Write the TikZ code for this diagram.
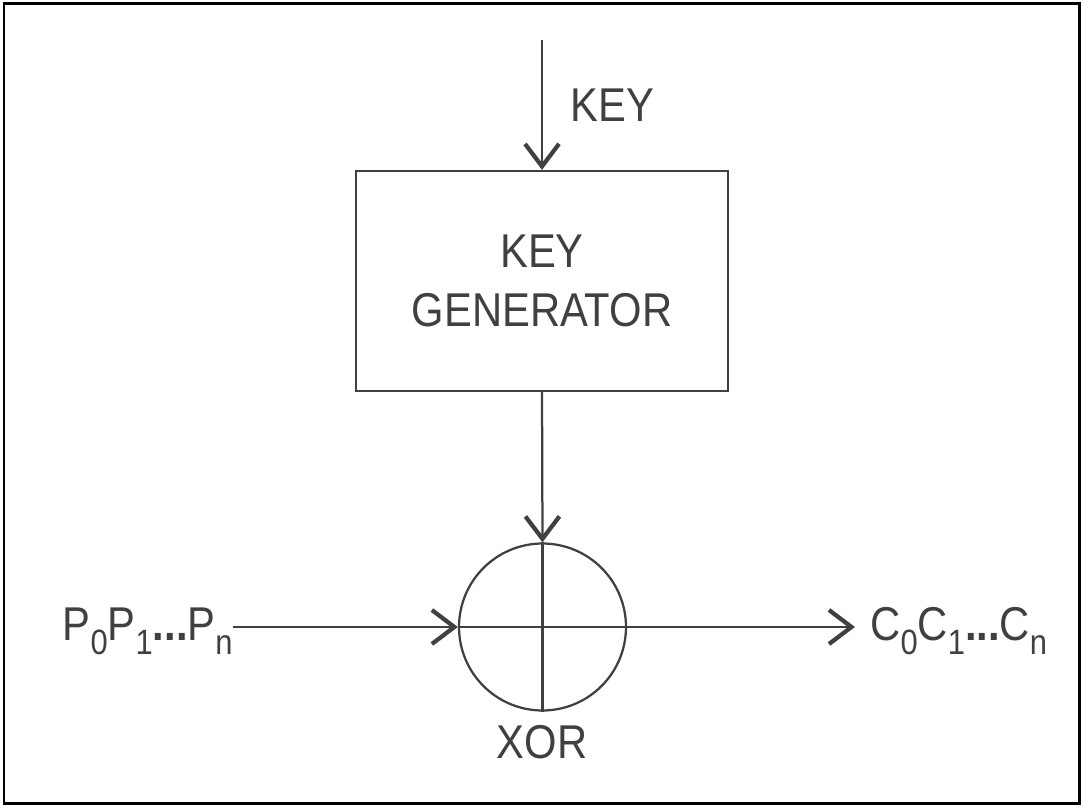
\documentclass[tikz,border=0pt]{standalone}
\usepackage{fontspec}
\setmainfont{Liberation Sans}[FakeStretch=0.88]
\usepackage{tikz}
\usetikzlibrary{arrows.meta}
\definecolor{ink}{HTML}{404040}
\newcommand\idx[1]{\raisebox{-0.3em}{\fontsize{20}{20}\selectfont #1}}

\begin{document}
\begin{tikzpicture}[x=0.02cm,y=-0.02cm] \tikzset{% styles for boxes, labels and arrows
        gen/.style={draw=ink,line width=0.045cm,minimum width=7.44cm,minimum height=4.4cm,align=center,text=ink,font=\fontsize{27}{34}\selectfont},
        xorc/.style={circle,draw=ink,line width=0.045cm,minimum size=3.34cm,inner sep=0pt},
        lbl/.style={inner sep=0pt,text=ink,font=\fontsize{27}{34}\selectfont},
        arr/.style={draw=ink,line width=0.045cm,-{Straight Barb[length=0.45cm,width=0.68cm,line width=0.085cm]}},
        ln/.style={draw=ink,line width=0.045cm},
        }
        \useasboundingbox (0,0) rectangle (1084,807);
        \draw[line width=0.06cm] (4,4) rectangle (1079,803);
        % Nodes
        \node[gen] (kg) at (542,281) {KEY\\GENERATOR}; \node[xorc] (xor) at (542.5,627) {};
        \node[lbl,anchor=base west] (key) at (570,122) {KEY}; \coordinate (ktop) at (542,40);
        \node[lbl,anchor=base] (xl) at (542,758) {XOR};
        \node[lbl,anchor=base east] (pin) at (233,640) {P\idx{0}P\idx{1}\textbf{...}P\idx{n}};
        \node[lbl,anchor=base west,inner xsep=0.3cm] (cout) at (855,640) {C\idx{0}C\idx{1}\textbf{...}C\idx{n}};
        %Edges
        \draw[arr] (ktop) -- (kg.north); \draw[arr] (kg.south) -- (xor.north);
        \draw[ln] (xor.north) -- (xor.south); \draw[ln] (xor.west) -- (xor.east);
        \draw[arr] (pin.east |- xor.west) -- (xor.west); \draw[arr] (xor.east) -- (cout.west |- xor.east);
\end{tikzpicture}
\end{document}
